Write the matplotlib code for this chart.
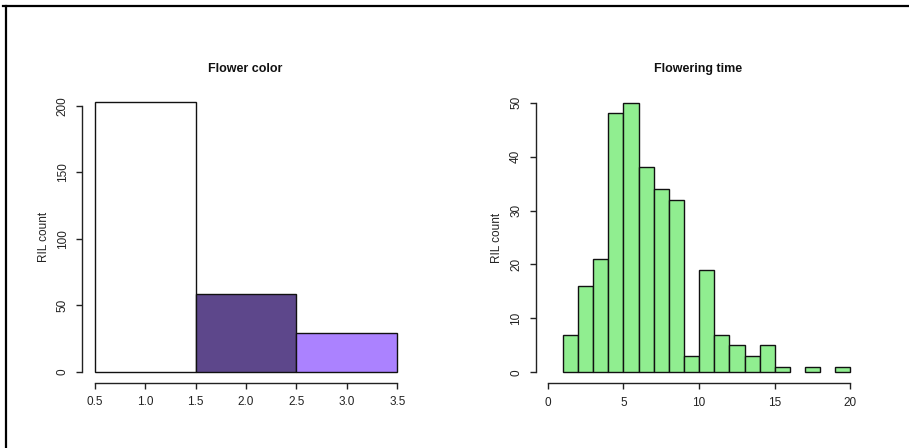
import matplotlib
matplotlib.use("Agg")
import matplotlib.pyplot as plt
from matplotlib.lines import Line2D
import numpy as np

plt.rcParams['font.family'] = ['Liberation Sans', 'DejaVu Sans']

# Flower color classes (1, 2, 3) and counts of RILs in each
color_classes = [1, 2, 3]
color_counts = [203, 59, 29]
color_fills = ["#FFFFFF", "#5D478B", "#AB82FF"]
color_xticks = [0.5, 1.0, 1.5, 2.0, 2.5, 3.0, 3.5]
color_yticks = [0, 50, 100, 150, 200]

# Flowering time histogram: unit-width bins starting at 1
time_bin_left = list(range(1, 20))
time_counts = [7, 16, 21, 48, 50, 38, 34, 32, 3, 19, 7, 5, 3, 5, 1, 0, 1, 0, 1]
time_xticks = [0, 5, 10, 15, 20]
time_yticks = [0, 10, 20, 30, 40, 50]

W, H = 909, 448
fig = plt.figure(figsize=(W / 100, H / 100), dpi=100)


def px_axes(x0, x1, y_top, y_bot):
    return fig.add_axes([x0 / W, 1 - y_bot / H, (x1 - x0) / W, (y_bot - y_top) / H])


def r_style(ax, xticks, yticks, xlabels, xlim, ylim, title, title_x):
    ax.set_xlim(*xlim)
    ax.set_ylim(*ylim)
    for s in ("top", "right"):
        ax.spines[s].set_visible(False)
    for s in ("left", "bottom"):
        ax.spines[s].set_linewidth(1.0)
        ax.spines[s].set_color("#222222")
    ax.spines["bottom"].set_bounds(xticks[0], xticks[-1])
    ax.spines["left"].set_bounds(yticks[0], yticks[-1])
    ax.set_xticks(xticks)
    ax.set_yticks(yticks)
    ax.set_xticklabels(xlabels)
    ax.set_yticklabels([str(t) for t in yticks], rotation=90, va="center")
    ax.tick_params(axis="both", direction="out", length=4.3, width=1.0,
                   color="#222222", labelsize=8.5, labelcolor="#222222")
    ax.tick_params(axis="x", pad=5.5)
    ax.tick_params(axis="y", pad=5.5)
    ax.set_ylabel("RIL count", fontsize=8.5, color="#222222", labelpad=5)
    ax.patch.set_alpha(0)
    fig.text(title_x / W, 1 - 69 / H, title, ha="center", va="center",
             fontsize=9, fontweight="bold", color="#111111")


# Flower color panel
ax1 = px_axes(82.4, 409.6, 91.2, 382.8)
ax1.bar(np.array(color_classes) - 0.5, color_counts, width=1.0, align="edge",
        color=color_fills, edgecolor="#111111", linewidth=1.0)
r_style(ax1, color_xticks, color_yticks, [f"{t:.1f}" for t in color_xticks],
        (0.38, 3.62), (-0.04 * max(color_counts), 1.04 * max(color_counts)),
        "Flower color", 245.5)

# Flowering time panel
ax2 = px_axes(535.7, 862.6, 91.9, 383.1)
tc = np.array(time_counts)
tl = np.array(time_bin_left)
nz = tc > 0
ax2.bar(tl[nz], tc[nz], width=1.0, align="edge",
        color="#90EE90", edgecolor="#111111", linewidth=1.0)
r_style(ax2, time_xticks, time_yticks, [str(t) for t in time_xticks],
        (-0.8, 20.8), (-2, 52), "Flowering time", 698.5)

# Figure border (top and left edges)
fig.add_artist(Line2D([3 / W, 1], [1 - 6.5 / H, 1 - 6.5 / H], transform=fig.transFigure,
                      color="black", linewidth=1.6))
fig.add_artist(Line2D([6 / W, 6 / W], [0, 1 - 6.5 / H], transform=fig.transFigure,
                      color="black", linewidth=1.6))

fig.savefig("out.png", dpi=100)
